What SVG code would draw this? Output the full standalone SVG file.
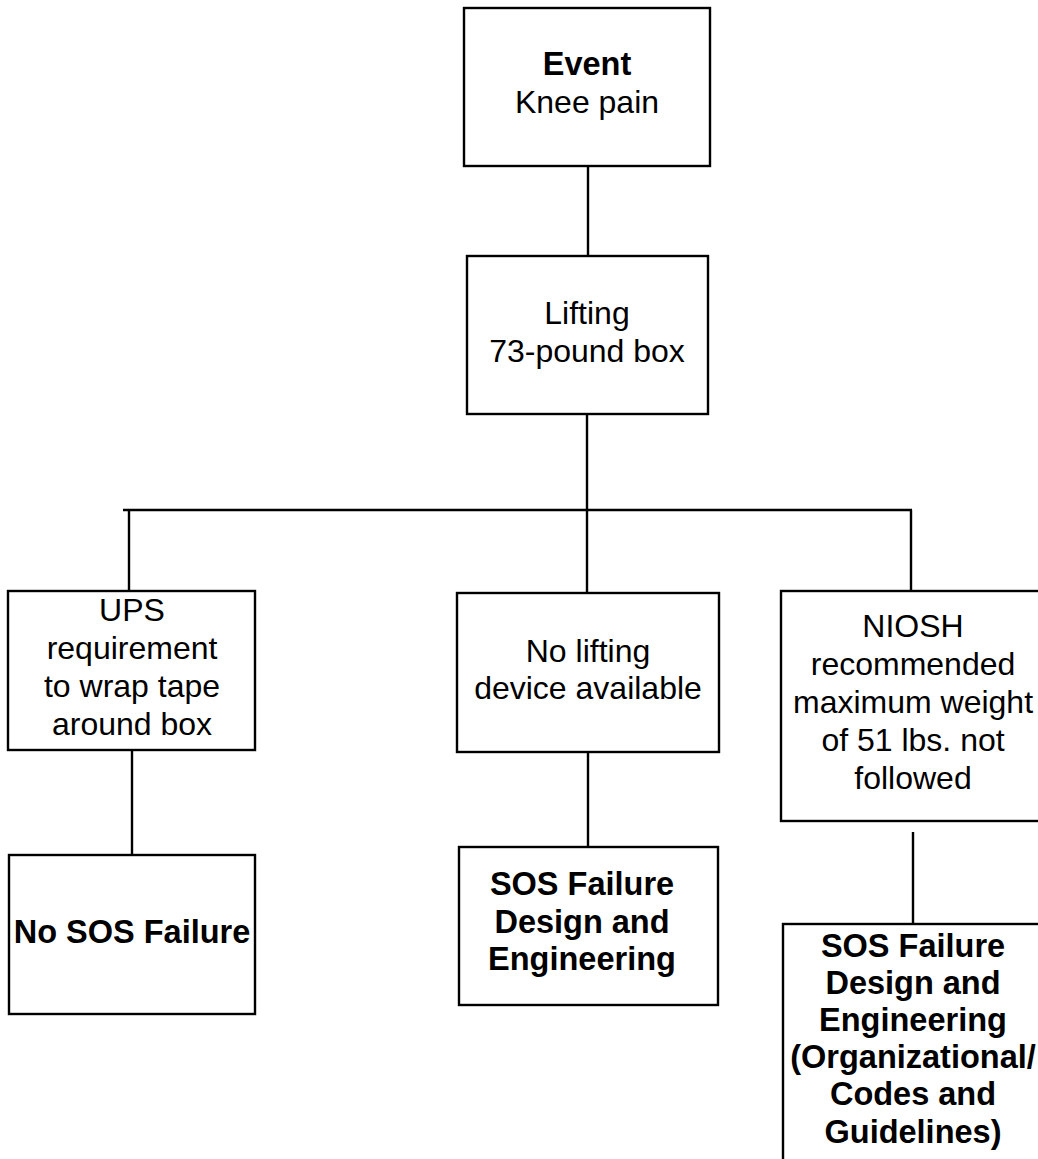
<svg xmlns="http://www.w3.org/2000/svg" width="1038" height="1159" viewBox="0 0 1038 1159">
<style>
.box{fill:#fff;stroke:#000;stroke-width:2.4}
.ln{stroke:#000;stroke-width:2.4;fill:none}
text{font-family:"Liberation Sans",Arial,sans-serif;font-size:32px;fill:#000;text-anchor:middle}
.b{font-weight:bold;font-size:32.5px}
</style>
<rect width="1038" height="1159" fill="#fff"/>
<g id="connectors">
<line class="ln" x1="588" y1="166" x2="588" y2="256"/>
<line class="ln" x1="587" y1="414" x2="587" y2="510"/>
<line class="ln" x1="123" y1="510" x2="912" y2="510"/>
<line class="ln" x1="129" y1="510" x2="129" y2="591"/>
<line class="ln" x1="587" y1="510" x2="587" y2="593"/>
<line class="ln" x1="911" y1="510" x2="911" y2="591"/>
<line class="ln" x1="132" y1="750" x2="132" y2="855"/>
<line class="ln" x1="588" y1="752" x2="588" y2="847"/>
<line class="ln" x1="913" y1="832" x2="913" y2="924"/>
</g>
<g id="event">
<rect class="box" x="464" y="8" width="246" height="158"/>
<text x="587" y="75" class="b">Event</text>
<text x="587" y="113">Knee pain</text>
</g>
<g id="lifting">
<rect class="box" x="467" y="256" width="241" height="158"/>
<text x="587" y="324">Lifting</text>
<text x="587" y="362">73-pound box</text>
</g>
<g id="ups">
<rect class="box" x="8" y="591" width="247" height="159"/>
<text x="132" y="621">UPS</text>
<text x="132" y="659">requirement</text>
<text x="132" y="697">to wrap tape</text>
<text x="132" y="735">around box</text>
</g>
<g id="nolifting">
<rect class="box" x="457" y="593" width="262" height="159"/>
<text x="588" y="662">No lifting</text>
<text x="588" y="699">device available</text>
</g>
<g id="niosh">
<rect class="box" x="781" y="591" width="262" height="230"/>
<text x="913" y="637">NIOSH</text>
<text x="913" y="675">recommended</text>
<text x="913" y="713">maximum weight</text>
<text x="913" y="751">of 51 lbs. not</text>
<text x="913" y="789">followed</text>
</g>
<g id="nosos">
<rect class="box" x="9" y="855" width="246" height="159"/>
<text x="132" y="943" class="b">No SOS Failure</text>
</g>
<g id="sos1">
<rect class="box" x="459" y="847" width="259" height="158"/>
<text x="582" y="895" class="b">SOS Failure</text>
<text x="582" y="933" class="b">Design and</text>
<text x="582" y="970" class="b">Engineering</text>
</g>
<g id="sos2">
<rect class="box" x="783" y="924" width="262" height="245"/>
<text x="913" y="957" class="b">SOS Failure</text>
<text x="913" y="994" class="b">Design and</text>
<text x="913" y="1031" class="b">Engineering</text>
<text x="913" y="1068" class="b">(Organizational/</text>
<text x="913" y="1105" class="b">Codes and</text>
<text x="913" y="1143" class="b">Guidelines)</text>
</g>
</svg>
